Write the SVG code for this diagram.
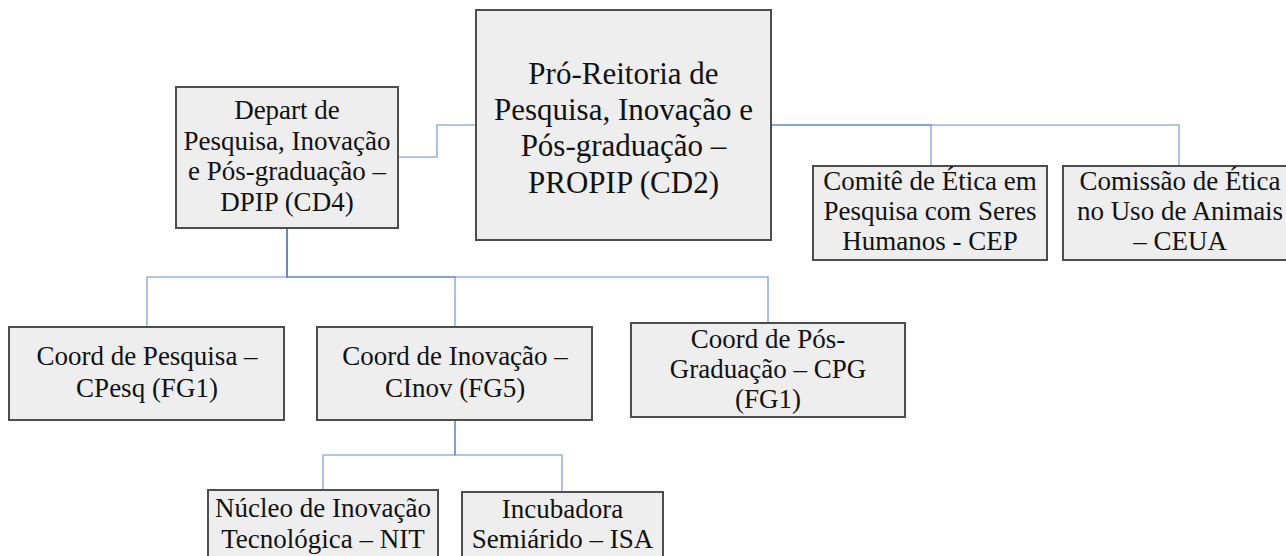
<svg xmlns="http://www.w3.org/2000/svg" width="1286" height="556" viewBox="0 0 1286 556">
<style>
.box{fill:#eeeeee;stroke:#4d4d4d;stroke-width:2}
.t{font-family:"Liberation Serif","Times New Roman",serif;font-size:27px;fill:#111;text-anchor:middle}
.big{font-size:31px}
.c{fill:none;stroke:#4472c4;stroke-opacity:0.55;stroke-width:1.6}
</style>
<rect width="1286" height="556" fill="#ffffff"/>
<g id="connectors">
<path class="c" d="M476,125 H437 V157 H398"/>
<path class="c" d="M771,125 H931 V166"/>
<path class="c" d="M771,125 H1179 V166"/>
<path class="c" d="M287,228 V277 H147 V327"/>
<path class="c" d="M287,228 V277 H455 V327"/>
<path class="c" d="M287,228 V277 H768 V323"/>
<path class="c" d="M455,420 V455 H323 V490"/>
<path class="c" d="M455,420 V455 H562 V492"/>
</g>
<g id="propip">
<rect class="box" x="476" y="10" width="295" height="230"/>
<text class="t big" x="623.5" y="84">Pró-Reitoria de</text>
<text class="t big" x="623.5" y="120">Pesquisa, Inovação e</text>
<text class="t big" x="623.5" y="156">Pós-graduação –</text>
<text class="t big" x="623.5" y="193">PROPIP (CD2)</text>
</g>
<g id="dpip">
<rect class="box" x="176" y="87" width="222" height="141"/>
<text class="t" x="287" y="119">Depart de</text>
<text class="t" x="287" y="150">Pesquisa, Inovação</text>
<text class="t" x="287" y="180">e Pós-graduação –</text>
<text class="t" x="287" y="211">DPIP (CD4)</text>
</g>
<g id="cep">
<rect class="box" x="813" y="166" width="234" height="94"/>
<text class="t" x="930" y="190">Comitê de Ética em</text>
<text class="t" x="930" y="220">Pesquisa com Seres</text>
<text class="t" x="930" y="250">Humanos - CEP</text>
</g>
<g id="ceua">
<rect class="box" x="1063" y="166" width="240" height="94"/>
<text class="t" x="1180" y="190">Comissão de Ética</text>
<text class="t" x="1180" y="220">no Uso de Animais</text>
<text class="t" x="1180" y="250">– CEUA</text>
</g>
<g id="cpesq">
<rect class="box" x="9" y="327" width="275" height="93"/>
<text class="t" x="147" y="365">Coord de Pesquisa –</text>
<text class="t" x="147" y="397">CPesq (FG1)</text>
</g>
<g id="cinov">
<rect class="box" x="317" y="327" width="275" height="93"/>
<text class="t" x="455" y="365">Coord de Inovação –</text>
<text class="t" x="455" y="397">CInov (FG5)</text>
</g>
<g id="cpg">
<rect class="box" x="631" y="323" width="274" height="94"/>
<text class="t" x="768" y="348">Coord de Pós-</text>
<text class="t" x="768" y="378">Graduação – CPG</text>
<text class="t" x="768" y="408">(FG1)</text>
</g>
<g id="nit">
<rect class="box" x="208" y="490" width="230" height="80"/>
<text class="t" x="323" y="517">Núcleo de Inovação</text>
<text class="t" x="323" y="548">Tecnológica – NIT</text>
</g>
<g id="isa">
<rect class="box" x="462" y="492" width="201" height="80"/>
<text class="t" x="562.5" y="518">Incubadora</text>
<text class="t" x="562.5" y="548">Semiárido – ISA</text>
</g>
</svg>
